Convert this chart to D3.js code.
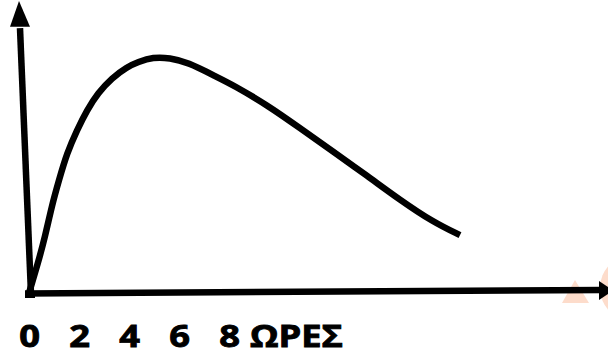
<!DOCTYPE html>
<html>
<head>
<meta charset="utf-8">
<script src="https://cdn.jsdelivr.net/npm/d3@7"></script>
<style>
  html, body { margin: 0; padding: 0; background: #fff; }
  svg { display: block; }
</style>
</head>
<body>
<div id="chart"></div>
<script>
// curve: hours -> level (0..100)
var hours = [0, 0.36, 0.64, 0.92, 1.20, 1.52, 1.92, 2.32, 2.76, 3.32, 3.92, 4.36, 4.96, 5.64, 6.32, 7.52, 8.16, 9.52, 10.84, 12.16, 13.52, 14.84, 16.16, 17.24];
var level = [0, 11.0, 20.5, 32.2, 41.4, 51.3, 59.7, 67.0, 73.3, 78.8, 82.8, 84.6, 86.4, 86.1, 84.6, 79.1, 76.2, 68.9, 60.4, 51.8, 43.0, 34.1, 26.0, 21.2];
var tickHours = [0, 2, 4, 6, 8];
var unitLabel = "ΩΡΕΣ";

var width = 608, height = 353;
var labelY = 347, stretch = 1.17;

var x = d3.scaleLinear().domain([0, 8]).range([29, 229]);
var y = d3.scaleLinear().domain([0, 100]).range([293, 20]);

var svg = d3.select("#chart").append("svg")
    .attr("width", width)
    .attr("height", height);

// faint watermark peeking in at the right edge
svg.append("circle")
    .attr("cx", 633).attr("cy", 288).attr("r", 33)
    .attr("fill", "#fddccb");
svg.append("path")
    .attr("d", "M562,303L575,280L589,303Z")
    .attr("fill", "#fddccb");

var data = hours.map(function (h, i) { return { h: h, v: level[i] }; });

var line = d3.line()
    .x(function (d) { return x(d.h); })
    .y(function (d) { return y(d.v); })
    .curve(d3.curveBasis);

svg.append("path")
    .datum(data)
    .attr("fill", "none")
    .attr("stroke", "#000")
    .attr("stroke-width", 6.5)
    .attr("d", line);

// hand drawn axes, slightly slanted like the original
var x0 = x(0), y0 = y(0);

svg.append("line")
    .attr("x1", x0 + 2).attr("y1", y0 + 1)
    .attr("x2", x0 - 9).attr("y2", y(97))
    .attr("stroke", "#000").attr("stroke-width", 6.5);
svg.append("path")
    .attr("d", "M" + (x0 - 10) + "," + y(107) + "L" + (x0 - 19) + "," + y(97.5) + "L" + (x0 + 1) + "," + y(97.5) + "Z")
    .attr("fill", "#000");

svg.append("line")
    .attr("x1", x0 - 4).attr("y1", y0 + 0.5)
    .attr("x2", 602).attr("y2", y0 - 3)
    .attr("stroke", "#000").attr("stroke-width", 6.5);
svg.append("path")
    .attr("d", "M599,281L613,290.5L599,300Z")
    .attr("fill", "#000");

svg.append("rect")
    .attr("x", x0 - 4).attr("y", y0 - 1)
    .attr("width", 10).attr("height", 6)
    .attr("fill", "#000");

// tick labels (the original font is a bit wider and heavier)
var axis = svg.append("g")
    .attr("transform", "translate(0," + labelY + ")")
    .call(d3.axisBottom(x).tickValues(tickHours).tickSize(0).tickPadding(0));

axis.select(".domain").remove();
axis.selectAll("text")
    .attr("y", 0)
    .attr("dy", 0)
    .attr("fill", "#000")
    .attr("stroke", "#000")
    .attr("stroke-width", 0.9)
    .attr("transform", "scale(" + stretch + ",1)")
    .style("font-family", "'Open Sans', sans-serif")
    .style("font-weight", 700)
    .style("font-size", "31px");

svg.append("text")
    .attr("transform", "translate(" + (x(8) + 21) + "," + labelY + ") scale(" + stretch + ",1)")
    .attr("fill", "#000")
    .attr("stroke", "#000")
    .attr("stroke-width", 0.9)
    .style("font-family", "'Open Sans', sans-serif")
    .style("font-weight", 700)
    .style("font-size", "31px")
    .text(unitLabel);
</script>
</body>
</html>
